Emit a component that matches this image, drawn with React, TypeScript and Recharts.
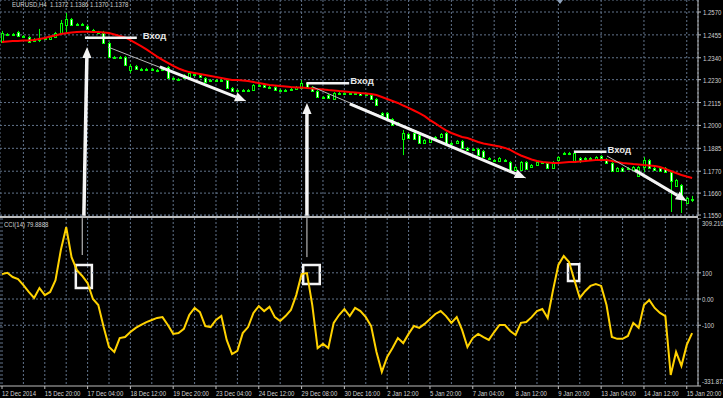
import React from 'react';
import {
  ComposedChart,
  Bar,
  Line,
  XAxis,
  YAxis,
  CartesianGrid,
  ReferenceLine,
  ReferenceArea,
} from 'recharts';

// EURUSD H4 candles (bar 0 = 12 Dec 2014 12:00)
const openPrices = [
  1.2419, 1.2459, 1.2454, 1.247, 1.2449, 1.2444, 1.2424, 1.2429, 1.2439, 1.2434,
  1.2444, 1.2464, 1.2505, 1.2535, 1.2505, 1.251, 1.25, 1.248, 1.247, 1.2464,
  1.2414, 1.2344, 1.2344, 1.2344, 1.2279, 1.2299, 1.2284, 1.2284, 1.2284, 1.2279,
  1.2279, 1.2294, 1.2238, 1.2228, 1.2238, 1.2243, 1.2258, 1.2253, 1.2238, 1.2223,
  1.2228, 1.2226, 1.2228, 1.2188, 1.2173, 1.2178, 1.2176, 1.2178, 1.2203, 1.2201,
  1.2193, 1.2193, 1.2178, 1.2176, 1.2178, 1.2183, 1.2188, 1.2213, 1.2193, 1.2173,
  1.2143, 1.2153, 1.2133, 1.2163, 1.2163, 1.2161, 1.2163, 1.2163, 1.2158, 1.2153,
  1.2133, 1.2062, 1.2062, 1.2032, 1.2012, 1.1932, 1.1957, 1.1962, 1.1952, 1.1912,
  1.1917, 1.1942, 1.1942, 1.1962, 1.1912, 1.1912, 1.1922, 1.1887, 1.1882, 1.1882,
  1.1872, 1.1836, 1.1826, 1.1821, 1.1826, 1.1816, 1.1776, 1.1776, 1.1816, 1.1791,
  1.1801, 1.1816, 1.1811, 1.1786, 1.1826, 1.1862, 1.1862, 1.1816, 1.1836, 1.1831,
  1.1836, 1.1831, 1.1846, 1.1831, 1.1811, 1.1771, 1.1786, 1.1786, 1.1776, 1.1746,
  1.1791, 1.1826, 1.1786, 1.1786, 1.1786, 1.1766, 1.1696, 1.1701, 1.161, 1.163,
];
const highPrices = [
  1.2475, 1.2464, 1.2464, 1.2475, 1.2454, 1.2449, 1.2439, 1.2485, 1.2444, 1.2449,
  1.247, 1.253, 1.2565, 1.254, 1.2515, 1.2515, 1.2505, 1.2485, 1.2475, 1.2475,
  1.2419, 1.2349, 1.2349, 1.2349, 1.2309, 1.2304, 1.2289, 1.2289, 1.2289, 1.2284,
  1.2289, 1.2299, 1.2243, 1.2238, 1.2258, 1.2268, 1.2263, 1.2258, 1.2243, 1.2233,
  1.2233, 1.2233, 1.2233, 1.2193, 1.2183, 1.2183, 1.2183, 1.2208, 1.2208, 1.2203,
  1.2198, 1.2198, 1.2183, 1.2183, 1.2188, 1.2198, 1.2228, 1.2218, 1.2198, 1.2178,
  1.2148, 1.2158, 1.2168, 1.2168, 1.2168, 1.2168, 1.2168, 1.2168, 1.2163, 1.2158,
  1.2138, 1.2067, 1.2067, 1.2037, 1.2017, 1.1977, 1.1962, 1.1967, 1.1957, 1.1932,
  1.1942, 1.1947, 1.1962, 1.1967, 1.1917, 1.1927, 1.1927, 1.1892, 1.1887, 1.1887,
  1.1877, 1.1841, 1.1831, 1.1841, 1.1831, 1.1821, 1.1796, 1.1821, 1.1821, 1.1806,
  1.1821, 1.1821, 1.1816, 1.1821, 1.1846, 1.1867, 1.1867, 1.1872, 1.1841, 1.1841,
  1.1841, 1.1846, 1.1851, 1.1836, 1.1816, 1.1791, 1.1791, 1.1791, 1.1796, 1.1796,
  1.1841, 1.1831, 1.1791, 1.1791, 1.1791, 1.1771, 1.1731, 1.1706, 1.1641, 1.1646,
];
const lowPrices = [
  1.2414, 1.2449, 1.2449, 1.2444, 1.2439, 1.2414, 1.2419, 1.2419, 1.2429, 1.2429,
  1.2439, 1.2459, 1.2464, 1.25, 1.25, 1.25, 1.248, 1.2464, 1.2459, 1.2409,
  1.2339, 1.2339, 1.2339, 1.2299, 1.2263, 1.2279, 1.2273, 1.2279, 1.2273, 1.2268,
  1.2273, 1.2233, 1.2228, 1.2223, 1.2233, 1.2238, 1.2248, 1.2238, 1.2213, 1.2218,
  1.2223, 1.222, 1.2183, 1.2168, 1.2168, 1.2173, 1.2171, 1.2173, 1.2193, 1.2188,
  1.2188, 1.2173, 1.2173, 1.2171, 1.2173, 1.2178, 1.2183, 1.2188, 1.2168, 1.2138,
  1.2138, 1.2133, 1.2128, 1.2153, 1.2158, 1.2156, 1.2158, 1.2148, 1.2153, 1.2128,
  1.2098, 1.2047, 1.2027, 1.1997, 1.2007, 1.1851, 1.1932, 1.1927, 1.1907, 1.1907,
  1.1912, 1.1937, 1.1937, 1.1907, 1.1907, 1.1907, 1.1882, 1.1872, 1.1877, 1.1846,
  1.1836, 1.1826, 1.1821, 1.1816, 1.1821, 1.1771, 1.1771, 1.1771, 1.1776, 1.1786,
  1.1796, 1.1811, 1.1781, 1.1781, 1.1821, 1.1855, 1.1851, 1.1811, 1.1811, 1.1826,
  1.1831, 1.1826, 1.1831, 1.1806, 1.1766, 1.1766, 1.1766, 1.1781, 1.1771, 1.1741,
  1.1766, 1.1781, 1.1771, 1.1766, 1.1761, 1.1565, 1.1691, 1.156, 1.1605, 1.1615,
];
const closePrices = [
  1.2464, 1.2454, 1.2459, 1.2449, 1.2444, 1.2419, 1.2434, 1.2439, 1.2434, 1.2444,
  1.2464, 1.2515, 1.2535, 1.2505, 1.251, 1.2507, 1.2485, 1.247, 1.2464, 1.2414,
  1.2344, 1.2341, 1.2342, 1.2304, 1.2299, 1.2284, 1.2281, 1.2282, 1.2279, 1.2276,
  1.2284, 1.2238, 1.2233, 1.2233, 1.2253, 1.2263, 1.2253, 1.2243, 1.2218, 1.2228,
  1.2226, 1.2228, 1.2188, 1.2173, 1.2178, 1.2176, 1.2178, 1.2203, 1.2201, 1.2193,
  1.2191, 1.2178, 1.2176, 1.2178, 1.2183, 1.2193, 1.2213, 1.2193, 1.2173, 1.2143,
  1.2141, 1.2138, 1.2163, 1.2158, 1.2161, 1.2163, 1.2161, 1.2153, 1.2156, 1.2133,
  1.2103, 1.2052, 1.2032, 1.2002, 1.201, 1.1962, 1.1937, 1.1932, 1.1912, 1.1927,
  1.1937, 1.194, 1.1957, 1.1912, 1.191, 1.1922, 1.1887, 1.1877, 1.188, 1.1851,
  1.1841, 1.1831, 1.1824, 1.1836, 1.1828, 1.1776, 1.1791, 1.1816, 1.1781, 1.1801,
  1.1816, 1.1814, 1.1786, 1.1816, 1.1841, 1.186, 1.1857, 1.1862, 1.1826, 1.1836,
  1.1834, 1.1841, 1.1836, 1.1811, 1.1771, 1.1786, 1.1771, 1.1784, 1.1791, 1.1791,
  1.1826, 1.1786, 1.1776, 1.1771, 1.1766, 1.1721, 1.1726, 1.1646, 1.1636, 1.1628,
];
// red moving average
const maValues = [
  1.2419, 1.2422, 1.2424, 1.2424, 1.2427, 1.2427, 1.2429, 1.2434, 1.2439, 1.2447,
  1.2452, 1.2459, 1.2463, 1.2467, 1.247, 1.2471, 1.2471, 1.247, 1.247, 1.2467,
  1.2464, 1.2457, 1.2449, 1.2442, 1.2429, 1.2414, 1.2399, 1.2382, 1.2364, 1.2346,
  1.2329, 1.2314, 1.2299, 1.2286, 1.2276, 1.2268, 1.2263, 1.2258, 1.2253, 1.2248,
  1.2243, 1.2238, 1.2233, 1.2228, 1.2228, 1.2226, 1.2223, 1.2218, 1.2213, 1.2208,
  1.2203, 1.2201, 1.2198, 1.2196, 1.2193, 1.2191, 1.2191, 1.2188, 1.2186, 1.2183,
  1.2181, 1.2178, 1.2176, 1.2173, 1.2171, 1.2168, 1.2166, 1.2163, 1.2161, 1.2158,
  1.2153, 1.2143, 1.2133, 1.2123, 1.2113, 1.21, 1.2088, 1.2075, 1.2062, 1.2047,
  1.2027, 1.201, 1.1992, 1.1975, 1.1962, 1.1952, 1.1942, 1.1937, 1.1927, 1.1917,
  1.1909, 1.1904, 1.1899, 1.1894, 1.1887, 1.1877, 1.1862, 1.1849, 1.1839, 1.1829,
  1.1821, 1.1816, 1.1814, 1.1811, 1.1811, 1.1814, 1.1816, 1.1816, 1.1819, 1.1821,
  1.1824, 1.1826, 1.1826, 1.1826, 1.1821, 1.1816, 1.1811, 1.1809, 1.1806, 1.1804,
  1.1801, 1.1799, 1.1796, 1.1791, 1.1781, 1.1771, 1.1761, 1.1751, 1.1743, 1.1736,
];
// CCI(14)
const cciValues = [
  95, 100, 84, 76, 53, 27, 4, 42, 15, 27,
  72, 187, 274, 160, 110, 88, 61, 0, -23, -107,
  -183, -202, -149, -145, -126, -110, -99, -88, -80, -72,
  -69, -99, -133, -130, -114, -61, -34, -50, -103, -107,
  -80, -65, -156, -210, -198, -130, -107, -53, -27, -46,
  -30, -69, -84, -65, -42, 15, 95, 99, -23, -187,
  -171, -187, -91, -61, -38, -65, -34, -46, -69, -103,
  -202, -278, -221, -187, -149, -168, -133, -103, -110, -95,
  -76, -57, -46, -65, -91, -69, -118, -183, -149, -133,
  -145, -156, -126, -99, -99, -122, -137, -91, -88, -69,
  -46, -38, -72, 34, 130, 164, 141, 72, 4, 30,
  50, 57, 50, -23, -145, -152, -152, -141, -91, -110,
  -23, -4, -34, -53, -65, -290, -202, -255, -175, -130,
];
const timeLabels = [
  '12 Dec 2014', '15 Dec 20:00', '17 Dec 04:00', '18 Dec 12:00', '19 Dec 20:00',
  '23 Dec 04:00', '24 Dec 12:00', '29 Dec 08:00', '30 Dec 16:00', '2 Jan 12:00',
  '5 Jan 20:00', '7 Jan 04:00', '8 Jan 12:00', '9 Jan 20:00', '13 Jan 04:00',
  '14 Jan 12:00', '15 Jan 20:00',
];
const priceTicks = [1.257, 1.2455, 1.234, 1.223, 1.2115, 1.2, 1.1885, 1.177, 1.166, 1.155];
const priceLabels = ['1.2570', '1.2455', '1.2340', '1.2230', '1.2115', '1.2000', '1.1885', '1.1770', '1.1660', '1.1550'];
const cciTicks = [309.21, 100, 0, -100, -331.872];
const cciLabels = ['309.210', '100', '0.00', '-100', '-331.872'];
const cciLevels = [100, 0, -100];
const gridBars = [
  0, 4, 8, 12, 16, 20, 24, 28, 32, 36, 40, 44, 48, 52, 56, 60, 64,
  68, 72, 76, 80, 84, 88, 92, 96, 100, 104, 108, 112, 116, 120, 124, 128,
];

// drawn objects (bar index / price or CCI value)
const entryLines = [
  { from: 15.5, to: 25.2, price: 1.2441, gap: 6 },
  { from: 56.9, to: 64.9, price: 1.2212, gap: 1 },
  { from: 106.9, to: 113.0, price: 1.1868, gap: 1 },
];
const thinTrends = [
  { x1: 19.8, y1: 1.2394, x2: 45.6, y2: 1.2123 },
  { x1: 58.1, y1: 1.2193, x2: 97.9, y2: 1.1736 },
  { x1: 113.1, y1: 1.1846, x2: 128.0, y2: 1.162 },
];
const trendArrows = [
  { x1: 29.5, y1: 1.2294, x2: 45.6, y2: 1.2123 },
  { x1: 65.0, y1: 1.2108, x2: 97.9, y2: 1.1736 },
  { x1: 118.3, y1: 1.1776, x2: 128.0, y2: 1.162 },
];
const upArrows = [
  { x1: 15.3, y1: 1.1546, x2: 15.9, y2: 1.2394 },
  { x1: 57.0, y1: 1.1546, x2: 57.0, y2: 1.2113 },
];
const cciMarkers = [
  { x: 15.0, top: 309, bottom: 168 },
  { x: 57.0, top: 309, bottom: 160 },
];
const cciBoxes = [
  { x1: 13.8, x2: 16.8, y1: 42, y2: 130 },
  { x1: 56.3, x2: 59.4, y1: 57, y2: 130 },
  { x1: 105.8, x2: 107.9, y1: 69, y2: 133 },
];
const shiftBar = 104.3;

const rows = openPrices.map((o, i) => ({
  i,
  open: o,
  high: highPrices[i],
  low: lowPrices[i],
  close: closePrices[i],
  range: [lowPrices[i], highPrices[i]],
  ma: maValues[i],
  cci: cciValues[i],
}));

const W = 723;
const X_DOMAIN: [number, number] = [-0.374, 130.1];
const PRICE_DOMAIN: [number, number] = [1.15449, 1.26303];
const CCI_DOMAIN: [number, number] = [-331.872, 309.21];
const GRID = '#62748c';
const AXIS = '#bdbdbd';
const TEXT = '#d2d2d2';
const CANDLE = '#00ff00';
const FONT = "'Liberation Sans', Arial, sans-serif";
const SQUEEZE = 0.8;

function SmallText({ x, y, dy, children }: any) {
  return (
    <text
      transform={`translate(${x} ${y + dy}) scale(${SQUEEZE} 1)`}
      fill={TEXT}
      fontSize={7.5}
      fontFamily={FONT}
      textAnchor="start"
    >
      {children}
    </text>
  );
}

function Candle(props: any) {
  const { x, y, width, height, payload } = props;
  if (!payload || !Number.isFinite(y) || !Number.isFinite(x)) return <g />;
  const { open, close, high, low } = payload;
  const toY = (v: number) => y + ((high - v) / (high - low)) * height;
  const cx = Math.round(x + width / 2) + 0.5;
  const top = Math.round(toY(Math.max(open, close))) + 0.5;
  const bot = Math.max(Math.round(toY(Math.min(open, close))) + 0.5, top + 1);
  return (
    <g>
      <line x1={cx} x2={cx} y1={y} y2={y + height} stroke={CANDLE} strokeWidth={1} />
      <rect
        x={cx - 1}
        y={top}
        width={2}
        height={bot - top}
        fill={close > open ? '#000' : '#fff'}
        stroke={CANDLE}
        strokeWidth={1}
      />
    </g>
  );
}

function PriceTick(props: any) {
  const { x, y, payload } = props;
  const k = priceTicks.indexOf(payload.value);
  return (
    <SmallText x={x} y={y} dy={3}>
      {priceLabels[k] ?? payload.value}
    </SmallText>
  );
}

function CciTick(props: any) {
  const { x, y, payload } = props;
  const k = cciTicks.indexOf(payload.value);
  const dy = k === 0 ? 8 : k === cciTicks.length - 1 ? -2 : 3;
  return (
    <SmallText x={x - 1} y={y} dy={dy}>
      {cciLabels[k] ?? payload.value}
    </SmallText>
  );
}

function TimeTick(props: any) {
  const { x, y, payload } = props;
  if (payload.value % 8 !== 0) return <g />;
  return (
    <g>
      <line x1={x} x2={x} y1={y - 3} y2={y} stroke={AXIS} />
      <SmallText x={x} y={y} dy={6.5}>
        {timeLabels[payload.value / 8]}
      </SmallText>
    </g>
  );
}

const entryShape = (gap: number) => (p: any) => (
  <g>
    <line x1={p.x1} y1={p.y1} x2={p.x2} y2={p.y2} stroke="#f2f2f2" strokeWidth={2.5} />
    <text
      x={p.x2 + gap}
      y={p.y1 + 1}
      fill="#e6e6e6"
      fontSize={9.5}
      fontWeight="bold"
      fontFamily={FONT}
    >
      Вход
    </text>
  </g>
);

const arrowShape = (w: number, head: number) => (p: any) => {
  const { x1, y1, x2, y2 } = p;
  const a = Math.atan2(y2 - y1, x2 - x1);
  const bx = x2 - Math.cos(a) * head;
  const by = y2 - Math.sin(a) * head;
  const nx = -Math.sin(a) * head * 0.42;
  const ny = Math.cos(a) * head * 0.42;
  return (
    <g>
      <line x1={x1} y1={y1} x2={bx} y2={by} stroke="#f4f4f4" strokeWidth={w} />
      <polygon points={`${x2},${y2} ${bx + nx},${by + ny} ${bx - nx},${by - ny}`} fill="#f4f4f4" />
    </g>
  );
};

// little chart-shift triangle at the top edge
const shiftShape = (p: any) => (
  <polygon points={`${p.x1 - 3},${p.y1} ${p.x1 + 3},${p.y1} ${p.x1},${p.y1 + 4}`} fill="#8ea2bb" />
);

export default function App() {
  return (
    <div
      style={{
        position: 'absolute',
        left: 0,
        top: 0,
        width: W,
        height: 398,
        background: '#000',
        overflow: 'hidden',
        fontFamily: FONT,
      }}
    >
      <div style={{ position: 'absolute', left: 0, top: 0 }}>
        <ComposedChart width={W} height={222} data={rows} margin={{ top: 0, right: 0, bottom: 6, left: 0 }}>
          <CartesianGrid stroke={GRID} strokeDasharray="2 2" />
          <XAxis type="number" dataKey="i" domain={X_DOMAIN} ticks={gridBars} allowDataOverflow hide />
          <YAxis
            orientation="right"
            width={25}
            domain={PRICE_DOMAIN}
            ticks={priceTicks}
            interval={0}
            allowDataOverflow
            axisLine={{ stroke: AXIS }}
            tickLine={{ stroke: AXIS }}
            tickSize={3}
            tickMargin={2}
            tick={<PriceTick />}
          />
          <Bar dataKey="range" barSize={3} shape={Candle} isAnimationActive={false} />
          <Line
            type="linear"
            dataKey="ma"
            stroke="#ff0000"
            strokeWidth={2}
            dot={false}
            activeDot={false}
            isAnimationActive={false}
          />
          {thinTrends.map((t, k) => (
            <ReferenceLine
              key={`t${k}`}
              segment={[{ x: t.x1, y: t.y1 }, { x: t.x2, y: t.y2 }]}
              stroke="#b8b8b8"
              strokeWidth={1}
            />
          ))}
          {entryLines.map((e, k) => (
            <ReferenceLine
              key={`e${k}`}
              segment={[{ x: e.from, y: e.price }, { x: e.to, y: e.price }]}
              shape={entryShape(e.gap)}
            />
          ))}
          {trendArrows.map((t, k) => (
            <ReferenceLine
              key={`a${k}`}
              segment={[{ x: t.x1, y: t.y1 }, { x: t.x2, y: t.y2 }]}
              shape={arrowShape(3, 11)}
            />
          ))}
          {upArrows.map((t, k) => (
            <ReferenceLine
              key={`u${k}`}
              segment={[{ x: t.x1, y: t.y1 }, { x: t.x2, y: t.y2 }]}
              shape={arrowShape(3.5, 11)}
            />
          ))}
          <ReferenceLine
            segment={[{ x: shiftBar, y: PRICE_DOMAIN[1] }, { x: shiftBar, y: 1.262 }]}
            shape={shiftShape}
          />
        </ComposedChart>
      </div>

      <div style={{ position: 'absolute', left: 0, top: 216, width: 698, height: 2, background: AXIS }} />

      <div style={{ position: 'absolute', left: 0, top: 218 }}>
        <ComposedChart width={W} height={180} data={rows} margin={{ top: 0, right: 0, bottom: 0, left: 0 }}>
          <CartesianGrid stroke={GRID} strokeDasharray="2 2" horizontal={false} />
          <XAxis
            type="number"
            dataKey="i"
            domain={X_DOMAIN}
            ticks={gridBars}
            interval={0}
            allowDataOverflow
            height={12}
            axisLine={{ stroke: AXIS }}
            tickLine={false}
            tickSize={3}
            tickMargin={0}
            tick={<TimeTick />}
          />
          <YAxis
            orientation="right"
            width={25}
            domain={CCI_DOMAIN}
            ticks={cciTicks}
            interval={0}
            allowDataOverflow
            axisLine={{ stroke: AXIS }}
            tickLine={{ stroke: AXIS }}
            tickSize={3}
            tickMargin={2}
            tick={<CciTick />}
          />
          {cciLevels.map((l) => (
            <ReferenceLine key={l} y={l} stroke={GRID} strokeDasharray="2 2" />
          ))}
          <Line
            type="linear"
            dataKey="cci"
            stroke="#ffd200"
            strokeWidth={2}
            dot={false}
            activeDot={false}
            isAnimationActive={false}
          />
          {cciMarkers.map((m, k) => (
            <ReferenceLine
              key={`m${k}`}
              segment={[{ x: m.x, y: m.top }, { x: m.x, y: m.bottom }]}
              stroke="#d8d8d8"
              strokeWidth={1}
            />
          ))}
          {cciBoxes.map((b, k) => (
            <ReferenceArea
              key={`b${k}`}
              x1={b.x1}
              x2={b.x2}
              y1={b.y1}
              y2={b.y2}
              fill="none"
              fillOpacity={0}
              stroke="#f4f4f4"
              strokeWidth={2.5}
            />
          ))}
        </ComposedChart>
      </div>

      <div
        style={{
          position: 'absolute',
          left: 12,
          top: 0,
          color: TEXT,
          fontSize: 7.5,
          lineHeight: '10px',
          whiteSpace: 'pre',
          transform: `scaleX(${SQUEEZE})`,
          transformOrigin: 'left top',
        }}
      >
        EURUSD,H4  1.1372 1.1386 1.1370 1.1378
      </div>
      <div
        style={{
          position: 'absolute',
          left: 4,
          top: 220,
          color: TEXT,
          fontSize: 7.5,
          lineHeight: '10px',
          whiteSpace: 'pre',
          transform: `scaleX(${SQUEEZE})`,
          transformOrigin: 'left top',
        }}
      >
        CCI(14) 79.8888
      </div>
    </div>
  );
}
